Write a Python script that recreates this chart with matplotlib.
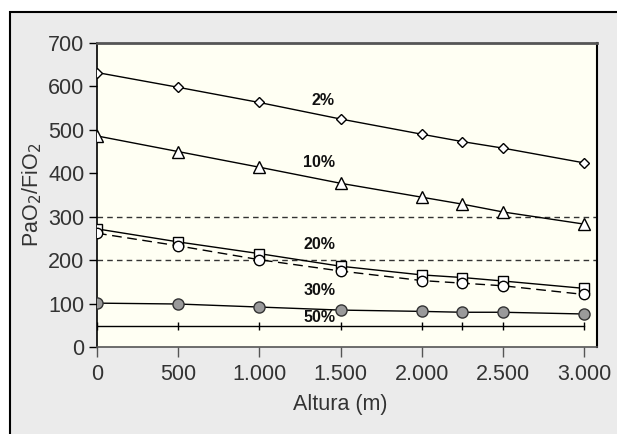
import matplotlib
matplotlib.use("Agg")
import matplotlib.pyplot as plt
from matplotlib.patches import Rectangle

plt.rcParams['font.family'] = ['Liberation Sans', 'DejaVu Sans']

# altitude (m)
altura = [0, 500, 1000, 1500, 2000, 2250, 2500, 3000]

# PaO2/FiO2 per series
s_2 = [632, 598, 563, 525, 490, 473, 458, 424]
s_10 = [486, 450, 414, 377, 345, 329, 311, 283]
s_20a = [272, 242, 215, 186, 166, 160, 152, 135]
s_20b = [262, 233, 201, 175, 153, 147, 141, 121]
s_30 = [101, 99, 92, 85, 82, 80, 80, 76]
s_50 = [48, 48, 48, 48, 48, 48, 48, 48]

limits = [300, 200]

labels = ['2%', '10%', '20%', '30%', '50%']
label_x = [1390, 1370, 1370, 1370, 1370]
label_y = [567, 424, 235, 131, 68]

xticks = [0, 500, 1000, 1500, 2000, 2500, 3000]
xticklabels = ['0', '500', '1.000', '1.500', '2.000', '2.500', '3.000']
yticks = [0, 100, 200, 300, 400, 500, 600, 700]

fig = plt.figure(figsize=(6.17, 4.34), dpi=100)
fig.patch.set_facecolor('white')
fig.patches.append(Rectangle((10 / 617, -0.1), 1.2, 0.9724 + 0.1,
                             transform=fig.transFigure, facecolor='#ebebeb',
                             edgecolor='black', linewidth=1.5, zorder=-10))

ax = fig.add_axes([97 / 617, 1 - 347 / 434, 500 / 617, 304 / 434])
ax.set_zorder(1)
ax.set_facecolor('#fffff3')

for y in limits:
    ax.axhline(y, color='#333333', lw=1, ls=(0, (4, 3)), zorder=1)

ax.plot(altura, s_2, color='black', lw=1, marker='D', ms=5.5,
        mfc='white', mec='black', mew=1, zorder=3)
ax.plot(altura, s_10, color='black', lw=1, marker='^', ms=8,
        mfc='white', mec='black', mew=1, zorder=3)
ax.plot(altura, s_20a, color='black', lw=1, marker='s', ms=6.5,
        mfc='white', mec='black', mew=1, zorder=3)
ax.plot(altura, s_20b, color='black', lw=1, ls=(0, (7, 4)), marker='o', ms=7.5,
        mfc='white', mec='black', mew=1, zorder=4)
ax.plot(altura, s_30, color='black', lw=1, marker='o', ms=8,
        mfc='#9a9a9a', mec='#333333', mew=1, zorder=3)
ax.plot(altura, s_50, color='black', lw=1, marker='|', ms=6,
        mec='black', mew=1, zorder=3)

for t, x, y in zip(labels, label_x, label_y):
    ax.text(x, y, t, fontsize=11.5, fontweight='bold', ha='center',
            va='center', color='#111111', zorder=5)

ax.set_xlim(0, 3080)
ax.set_ylim(0, 700)
ax.set_xticks(xticks)
ax.set_xticklabels(xticklabels)
ax.set_yticks(yticks)

ax.spines['left'].set_color('black')
ax.spines['left'].set_linewidth(1.2)
ax.spines['top'].set_color('#555555')
ax.spines['top'].set_linewidth(2)
ax.spines['right'].set_color('black')
ax.spines['right'].set_linewidth(1.5)
ax.spines['bottom'].set_color('#555555')
ax.spines['bottom'].set_linewidth(1.2)

ax.tick_params(axis='y', direction='out', length=6, width=1, color='black',
               labelsize=15.5, labelcolor='#333333', pad=3)
ax.tick_params(axis='x', direction='out', length=7, width=1, color='#555555',
               labelsize=15.5, labelcolor='#333333', pad=5)

ax.set_xlabel('Altura (m)', fontsize=15.5, color='#333333', va='center')
ax.set_ylabel('PaO$_2$/FiO$_2$', fontsize=15.5, color='#333333', va='center')
ax.xaxis.set_label_coords(0.486, -0.19)
ax.yaxis.set_label_coords(-0.13, 0.5)

fig.savefig('out.png', dpi=100)
